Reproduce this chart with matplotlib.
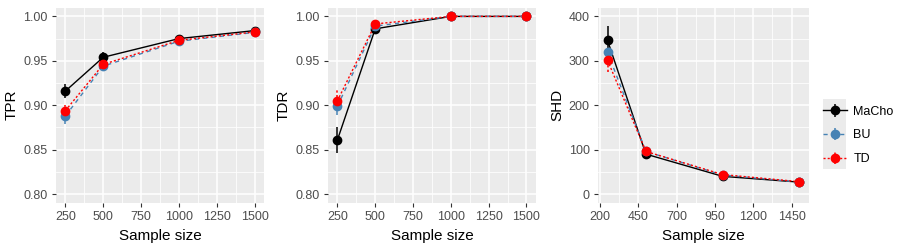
import matplotlib.pyplot as plt
from matplotlib.patches import Rectangle

plt.rcParams['font.family'] = ['Liberation Sans', 'DejaVu Sans']

# sample sizes
n = [250, 500, 1000, 1500]
methods = ['MaCho', 'BU', 'TD']

# TPR (mean, error half-width)
tpr_macho = [0.916, 0.954, 0.975, 0.984]
tpr_macho_err = [0.008, 0.006, 0.003, 0.002]
tpr_bu = [0.888, 0.944, 0.972, 0.982]
tpr_bu_err = [0.009, 0.004, 0.002, 0.002]
tpr_td = [0.894, 0.946, 0.973, 0.9825]
tpr_td_err = [0.006, 0.004, 0.002, 0.002]

# TDR
tdr_macho = [0.861, 0.986, 1.000, 1.000]
tdr_macho_err = [0.015, 0.003, 0.0, 0.0]
tdr_bu = [0.899, 0.989, 1.000, 1.000]
tdr_bu_err = [0.010, 0.002, 0.0, 0.0]
tdr_td = [0.905, 0.9915, 1.000, 1.000]
tdr_td_err = [0.012, 0.002, 0.0, 0.0]

# SHD
shd_macho = [346, 90, 40, 27]
shd_macho_err = [33, 12, 5, 4]
shd_bu = [319, 96, 43, 27]
shd_bu_err = [22, 7, 4, 3]
shd_td = [301, 96, 44, 28]
shd_td_err = [27, 7, 4, 3]

colors = {'MaCho': 'black', 'BU': '#4682B4', 'TD': '#FF0000'}
styles = {'MaCho': '-', 'BU': (0, (3, 3)), 'TD': (0, (1.5, 1.5))}

panels = [
    ('TPR', [(tpr_macho, tpr_macho_err), (tpr_bu, tpr_bu_err), (tpr_td, tpr_td_err)],
     [250, 500, 750, 1000, 1250, 1500], (0.79, 1.01), [0.80, 0.85, 0.90, 0.95, 1.00], '{:.2f}'),
    ('TDR', [(tdr_macho, tdr_macho_err), (tdr_bu, tdr_bu_err), (tdr_td, tdr_td_err)],
     [250, 500, 750, 1000, 1250, 1500], (0.79, 1.01), [0.80, 0.85, 0.90, 0.95, 1.00], '{:.2f}'),
    ('SHD', [(shd_macho, shd_macho_err), (shd_bu, shd_bu_err), (shd_td, shd_td_err)],
     [200, 450, 700, 950, 1200, 1450], (-20, 420), [0, 100, 200, 300, 400], '{:.0f}'),
]

fig = plt.figure(figsize=(9, 2.5), dpi=100)
lefts = [0.0622, 0.3644, 0.6644]
widths = [0.2311, 0.2311, 0.2344]

handles = []
for i, (ylab, series, xt, ylim, yt, fmt) in enumerate(panels):
    ax = fig.add_axes([lefts[i], 0.188, widths[i], 0.782])
    ax.set_facecolor('#EBEBEB')
    for s in ax.spines.values():
        s.set_visible(False)
    ax.set_xlim(187.5, 1562.5)
    ax.set_ylim(*ylim)
    ax.set_xticks(xt)
    ax.set_xticklabels([str(v) for v in xt])
    ax.set_xticks([(a + b) / 2 for a, b in zip(xt[:-1], xt[1:])], minor=True)
    ax.set_yticks(yt)
    ax.set_yticklabels([fmt.format(v) for v in yt])
    ax.set_yticks([(a + b) / 2 for a, b in zip(yt[:-1], yt[1:])], minor=True)
    ax.grid(True, which='major', color='white', linewidth=1.1)
    ax.grid(True, which='minor', color='white', linewidth=0.55)
    ax.set_axisbelow(True)
    ax.tick_params(which='major', length=3, width=0.8, color='#333333',
                   labelsize=9, labelcolor='#4D4D4D', pad=3)
    ax.tick_params(which='minor', length=0)
    ax.set_xlabel('Sample size', fontsize=11, labelpad=4)
    ax.set_ylabel(ylab, fontsize=11, labelpad=3)
    for m, (vals, err) in zip(methods, series):
        eb = ax.errorbar(n, vals, yerr=err, color=colors[m], linestyle=styles[m],
                         linewidth=1, marker='o', markersize=6, elinewidth=1.1,
                         capsize=0, label=m)
        eb[2][0].set_linestyle(styles[m])
        if i == 0:
            handles.append(eb)

# grey key background of the legend
fig.patches.append(Rectangle((823 / 900, 1 - 169 / 250), 23 / 900, 70 / 250,
                             transform=fig.transFigure, facecolor='#EBEBEB',
                             edgecolor='none', zorder=0))
leg = fig.legend(handles, methods, loc='center left', bbox_to_anchor=(0.914, 0.458),
                 frameon=False, fontsize=9, handlelength=1.95, labelspacing=0.95,
                 handletextpad=0.5, borderpad=0, borderaxespad=0)
fig.savefig('out.png', dpi=100)
